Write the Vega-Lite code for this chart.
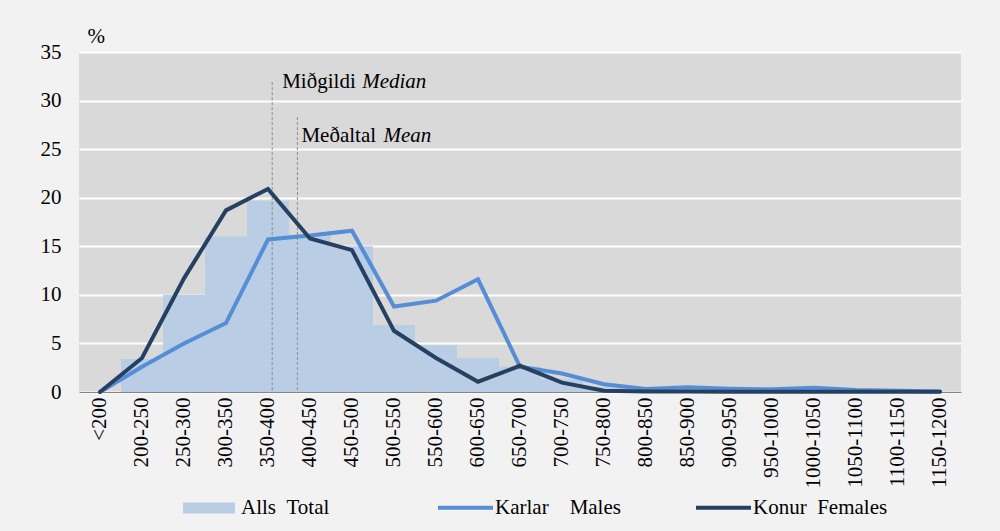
{
  "$schema": "https://vega.github.io/schema/vega-lite/v6.json",
  "autosize": {"type": "none"},
  "width": 882,
  "height": 340,
  "padding": {"left": 79, "top": 52, "right": 39, "bottom": 139},
  "background": "#f2f2f2",
  "datasets": {
    "dist": [
      {"cat": "<200", "total": 0},
      {"cat": "200-250", "total": 3.4},
      {"cat": "250-300", "total": 10.0},
      {"cat": "300-350", "total": 16.0},
      {"cat": "350-400", "total": 19.7},
      {"cat": "400-450", "total": 16.2},
      {"cat": "450-500", "total": 15.0},
      {"cat": "500-550", "total": 6.9},
      {"cat": "550-600", "total": 4.8},
      {"cat": "600-650", "total": 3.5},
      {"cat": "650-700", "total": 2.6},
      {"cat": "700-750", "total": 1.3},
      {"cat": "750-800", "total": 0.5},
      {"cat": "800-850", "total": 0.25},
      {"cat": "850-900", "total": 0.3},
      {"cat": "900-950", "total": 0.2},
      {"cat": "950-1000", "total": 0.2},
      {"cat": "1000-1050", "total": 0.25},
      {"cat": "1050-1100", "total": 0.1},
      {"cat": "1100-1150", "total": 0.05},
      {"cat": "1150-1200", "total": 0.03}
    ],
    "lines": [
      {"cat": "<200", "series": "Karlar", "value": 0},
      {"cat": "200-250", "series": "Karlar", "value": 2.6},
      {"cat": "250-300", "series": "Karlar", "value": 5.0},
      {"cat": "300-350", "series": "Karlar", "value": 7.1},
      {"cat": "350-400", "series": "Karlar", "value": 15.7},
      {"cat": "400-450", "series": "Karlar", "value": 16.1},
      {"cat": "450-500", "series": "Karlar", "value": 16.6},
      {"cat": "500-550", "series": "Karlar", "value": 8.8},
      {"cat": "550-600", "series": "Karlar", "value": 9.4},
      {"cat": "600-650", "series": "Karlar", "value": 11.6},
      {"cat": "650-700", "series": "Karlar", "value": 2.6},
      {"cat": "700-750", "series": "Karlar", "value": 1.9},
      {"cat": "750-800", "series": "Karlar", "value": 0.8},
      {"cat": "800-850", "series": "Karlar", "value": 0.3},
      {"cat": "850-900", "series": "Karlar", "value": 0.48},
      {"cat": "900-950", "series": "Karlar", "value": 0.34},
      {"cat": "950-1000", "series": "Karlar", "value": 0.28},
      {"cat": "1000-1050", "series": "Karlar", "value": 0.45},
      {"cat": "1050-1100", "series": "Karlar", "value": 0.2},
      {"cat": "1100-1150", "series": "Karlar", "value": 0.12},
      {"cat": "1150-1200", "series": "Karlar", "value": 0.05},
      {"cat": "<200", "series": "Konur", "value": 0},
      {"cat": "200-250", "series": "Konur", "value": 3.5},
      {"cat": "250-300", "series": "Konur", "value": 11.7},
      {"cat": "300-350", "series": "Konur", "value": 18.7},
      {"cat": "350-400", "series": "Konur", "value": 20.9},
      {"cat": "400-450", "series": "Konur", "value": 15.8},
      {"cat": "450-500", "series": "Konur", "value": 14.6},
      {"cat": "500-550", "series": "Konur", "value": 6.3},
      {"cat": "550-600", "series": "Konur", "value": 3.5},
      {"cat": "600-650", "series": "Konur", "value": 1.06},
      {"cat": "650-700", "series": "Konur", "value": 2.7},
      {"cat": "700-750", "series": "Konur", "value": 0.96},
      {"cat": "750-800", "series": "Konur", "value": 0.13},
      {"cat": "800-850", "series": "Konur", "value": 0.05},
      {"cat": "850-900", "series": "Konur", "value": 0.04},
      {"cat": "900-950", "series": "Konur", "value": 0.03},
      {"cat": "950-1000", "series": "Konur", "value": 0.03},
      {"cat": "1000-1050", "series": "Konur", "value": 0.03},
      {"cat": "1050-1100", "series": "Konur", "value": 0.02},
      {"cat": "1100-1150", "series": "Konur", "value": 0.02},
      {"cat": "1150-1200", "series": "Konur", "value": 0.02}
    ],
    "stats": [
      {"stat": "Miðgildi", "statEn": "Median", "value": 380, "top": 31.9},
      {"stat": "Meðaltal", "statEn": "Mean", "value": 410, "top": 28.3}
    ]
  },
  "layer": [
    {
      "data": {"name": "dist"},
      "mark": {"type": "bar"},
      "encoding": {
        "x": {
          "field": "cat", "type": "nominal", "sort": null,
          "scale": {"paddingInner": 0, "paddingOuter": 0},
          "axis": {"title": null, "labelAngle": -90, "labelFontSize": 21, "labelColor": "#000000", "ticks": false, "domainColor": "#868686", "domainWidth": 1, "labelPadding": 5, "grid": false, "labelLimit": 200}
        },
        "y": {"field": "total", "type": "quantitative", "title": "%", "scale": {"domain": [0, 35], "nice": false}},
        "fill": {
          "datum": "Alls",
          "scale": {"domain": ["Alls"], "range": ["#b9cde5"]},
          "legend": {
            "title": null, "orient": "none", "legendX": 104, "legendY": 430, "direction": "horizontal",
            "symbolType": "M-1,-0.21H1V0.21H-1Z", "symbolSize": 2704, "symbolStrokeWidth": 0, "symbolOpacity": 1,
            "labelExpr": "'Alls\u00a0\u00a0Total'", "labelOffset": 6, "labelFontSize": 21, "labelColor": "#000000", "padding": 0, "labelLimit": 400
          }
        }
      }
    },
    {
      "data": {"name": "stats"},
      "layer": [
        {
          "mark": {"type": "rule", "stroke": "#8c8c8c", "strokeWidth": 1, "strokeDash": [3, 2]},
          "encoding": {
            "y2": {"datum": 0}
          }
        },
        {
          "transform": [{"filter": "datum.statEn == 'Median'"}],
          "mark": {"type": "text", "align": "left", "baseline": "alphabetic", "fontSize": 21, "color": "#000000", "dx": 10, "dy": 6},
          "encoding": {"text": {"field": "stat"}}
        },
        {
          "transform": [{"filter": "datum.statEn == 'Median'"}],
          "mark": {"type": "text", "align": "left", "baseline": "alphabetic", "fontSize": 21, "fontStyle": "italic", "color": "#000000", "dx": 90, "dy": 6},
          "encoding": {"text": {"field": "statEn"}}
        },
        {
          "transform": [{"filter": "datum.statEn == 'Mean'"}],
          "mark": {"type": "text", "align": "left", "baseline": "alphabetic", "fontSize": 21, "color": "#000000", "dx": 4, "dy": 25},
          "encoding": {"text": {"field": "stat"}}
        },
        {
          "transform": [{"filter": "datum.statEn == 'Mean'"}],
          "mark": {"type": "text", "align": "left", "baseline": "alphabetic", "fontSize": 21, "fontStyle": "italic", "color": "#000000", "dx": 86, "dy": 25},
          "encoding": {"text": {"field": "statEn"}}
        }
      ],
      "encoding": {
        "x": {"field": "value", "type": "quantitative", "scale": {"domain": [150, 1200], "nice": false, "zero": false}, "axis": null},
        "y": {"field": "top", "type": "quantitative", "title": "%", "scale": {"domain": [0, 35], "nice": false}}
      }
    },
    {
      "data": {"name": "lines"},
      "mark": {"type": "line", "strokeWidth": 4, "strokeCap": "round"},
      "encoding": {
        "x": {"field": "cat", "type": "nominal", "sort": null, "scale": {"paddingInner": 0, "paddingOuter": 0}, "axis": null},
        "y": {"field": "value", "type": "quantitative", "title": "%", "scale": {"domain": [0, 35], "nice": false}},
        "stroke": {
          "field": "series", "type": "nominal",
          "scale": {"domain": ["Karlar", "Konur"], "range": ["#558ed5", "#254061"]},
          "legend": {
            "title": null, "orient": "none", "legendX": 357, "legendY": 426, "direction": "horizontal",
            "symbolType": "stroke", "symbolSize": 3025, "symbolStrokeWidth": 4,
            "labelExpr": "datum.label == 'Karlar' ? 'Karlar\u00a0\u00a0\u00a0\u00a0Males' : 'Konur\u00a0\u00a0Females'",
            "labelOffset": 0, "columnPadding": 67, "labelFontSize": 21, "labelColor": "#000000", "padding": 0, "labelLimit": 400
          }
        }
      }
    }
  ],
  "resolve": {"scale": {"x": "independent"}},
  "config": {
    "font": "Liberation Serif",
    "view": {"fill": "#d9d9d9", "stroke": null},
    "axisY": {
      "values": [0, 5, 10, 15, 20, 25, 30, 35],
      "grid": true, "gridColor": "#ffffff", "gridWidth": 2, "gridOpacity": 1,
      "domain": false, "ticks": false, "labelPadding": 18, "labelFontSize": 21, "labelColor": "#000000",
      "titleAngle": 0, "titleX": 8, "titleY": -10, "titleAlign": "left", "titleBaseline": "alphabetic",
      "titleFontSize": 21, "titleFontWeight": "normal", "titleColor": "#000000"
    }
  }
}
